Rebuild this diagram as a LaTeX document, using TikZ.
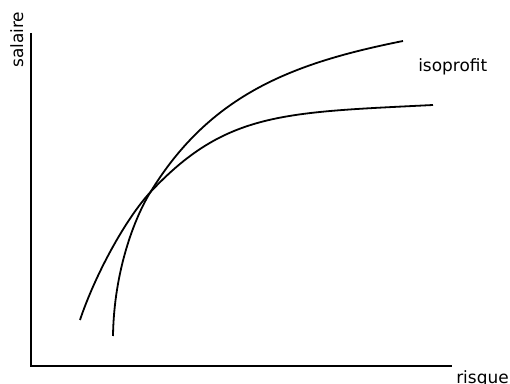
\documentclass[tikz,border=0pt]{standalone}
\usepackage{fontspec}
\setmainfont{DejaVu Sans}
\begin{document}
\begin{tikzpicture}[
    x=0.75pt, y=-0.75pt,
    axis/.style={line width=1.35pt},
    curve/.style={line width=1.35pt},
    lbl/.style={font=\fontsize{12.7}{15}\selectfont, inner sep=0pt}
]
\useasboundingbox (0,0) rectangle (510,384);
% axes
\coordinate (origin) at (31,366);
\coordinate (ytop) at (31,33);
\coordinate (xend) at (452,366);
\draw[axis] (ytop) -- (origin) -- (xend);
\node[lbl, rotate=90, anchor=base west] (ylab) at (23,68) {salaire};
\node[lbl, anchor=base west] (xlab) at (456,383) {risque};
% curves
\coordinate (cross) at (150.5,192);
\draw[curve] (113,336) .. controls (114,270) and (135,217) .. (cross)
    .. controls (210.5,94) and (293,63) .. (403,41);
\draw[curve] (80,320) .. controls (95,275) and (125.5,219) .. (cross)
    .. controls (225.5,112) and (283,112.5) .. (433,105);
\node[lbl, anchor=base west] (iso) at (418,72) {isoprofit};
\end{tikzpicture}
\end{document}
